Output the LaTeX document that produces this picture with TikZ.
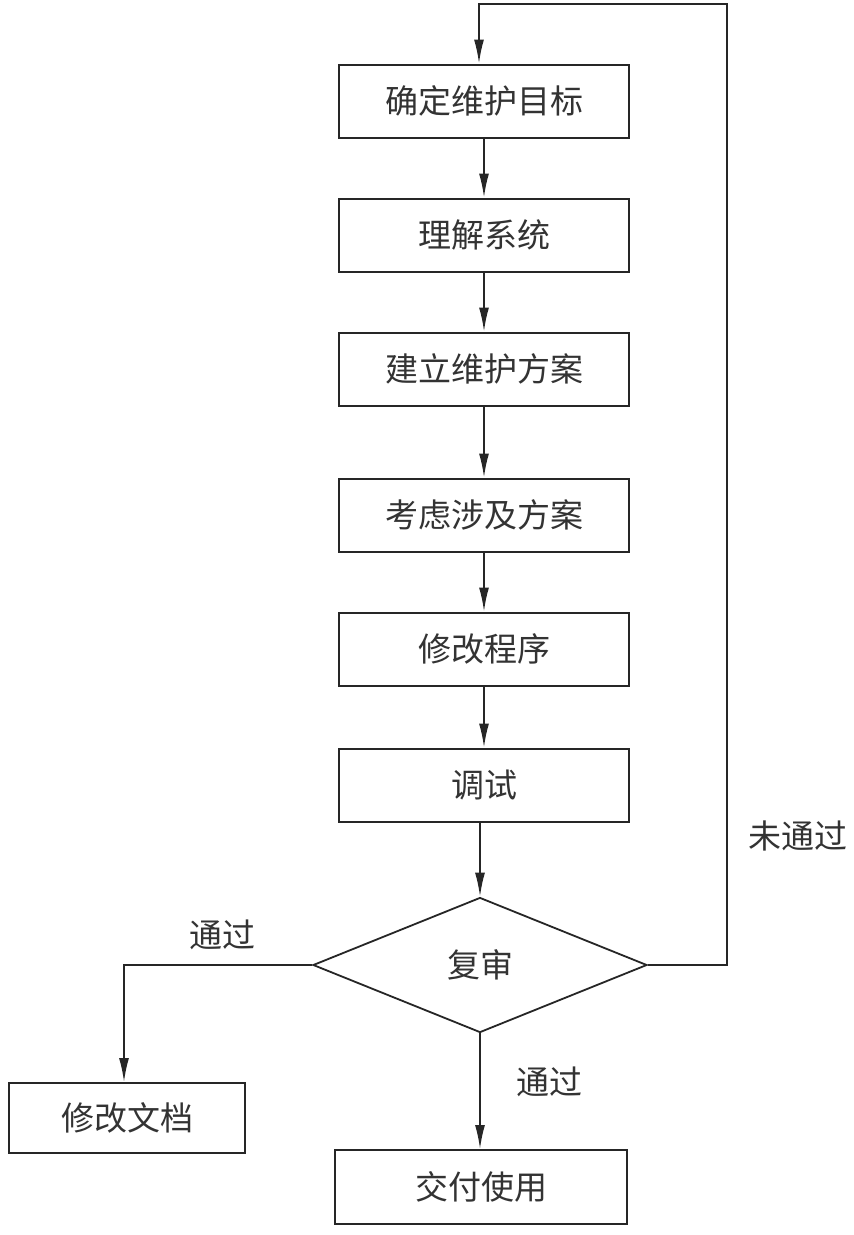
\documentclass[tikz,border=0pt]{standalone}
\usepackage{fontspec}
\newfontfamily\cjk{Noto Sans CJK SC}
\usetikzlibrary{shapes.geometric,arrows.meta}
\begin{document}
\begin{tikzpicture}[x=1pt,y=-1pt,
  every node/.style={font=\cjk\fontsize{33}{38}\selectfont, text=black!80},
  stepbox/.style={draw=black!85, line width=2pt, minimum width=290pt, minimum height=73pt, inner sep=0pt},
  flow/.style={draw=black!85, line width=1.8pt, -{Latex[length=24pt,width=10pt]}},
  lbl/.style={inner sep=0pt}]
\useasboundingbox (0,0) rectangle (854,1235);
\fill[white] (0,0) rectangle (854,1235);
\node[stepbox] (b1) at (484,101) {确定维护目标};
\node[stepbox] (b2) at (484,235) {理解系统};
\node[stepbox] (b3) at (484,369) {建立维护方案};
\node[stepbox] (b4) at (484,515) {考虑涉及方案};
\node[stepbox] (b5) at (484,649) {修改程序};
\node[stepbox] (b6) at (484,785) {调试};
\node[draw=black!85, line width=1.8pt, diamond, aspect=2.47, minimum width=334pt, minimum height=135pt, inner sep=0pt] (d) at (480,965) {复审};
\node[stepbox, minimum width=236pt, minimum height=70pt] (doc) at (127,1118) {修改文档};
\node[stepbox, minimum width=292pt, minimum height=74pt] (use) at (481,1187) {交付使用};
\coordinate (r1) at (727,965);
\coordinate (r2) at (727,4);
\coordinate (r3) at (479,4);
\coordinate (l1) at (124,965);
\draw[flow] (b1) -- (b2);
\draw[flow] (b2) -- (b3);
\draw[flow] (b3) -- (b4);
\draw[flow] (b4) -- (b5);
\draw[flow] (b5) -- (b6);
\draw[flow] (b6.south -| d.north) -- (d.north);
\draw[flow] (d.east) -- (r1) -- (r2) -- (r3) -- (r3 |- b1.north);
\draw[flow] (d.west) -- (l1) -- (l1 |- doc.north);
\draw[flow] (d.south) -- (use.north -| d.south);
\node[lbl] (t1) at (222,935) {通过};
\node[lbl] (t2) at (798,836) {未通过};
\node[lbl] (t3) at (549,1082) {通过};
\end{tikzpicture}
\end{document}
